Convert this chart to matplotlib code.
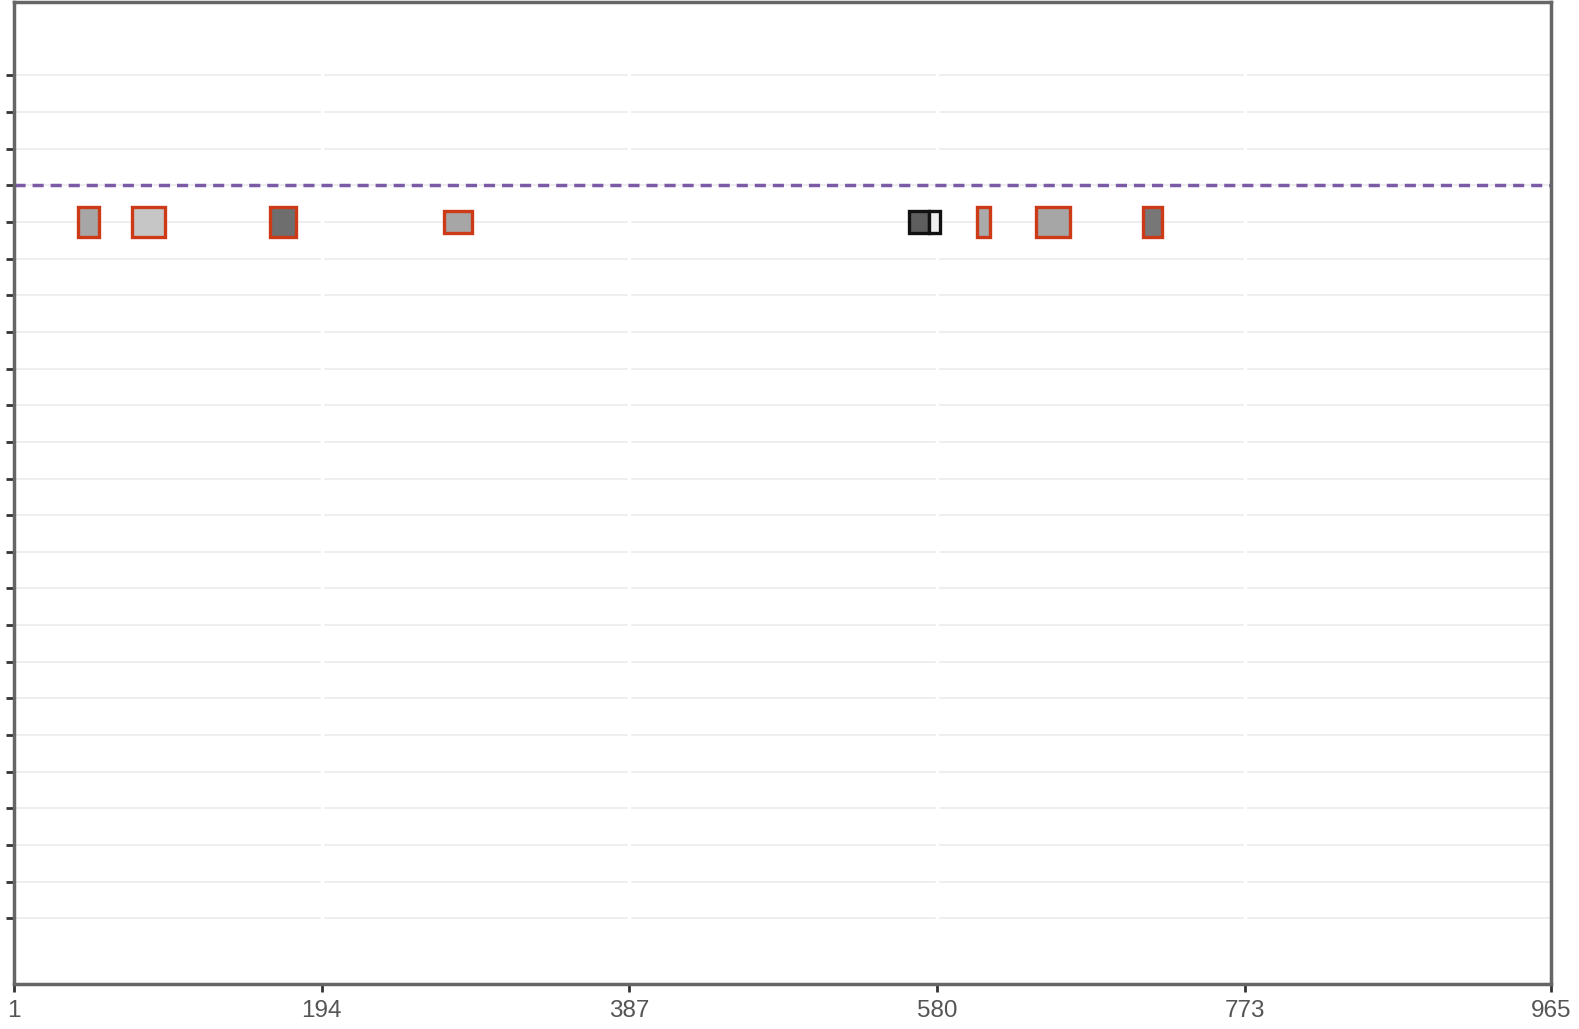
import matplotlib.pyplot as plt
from matplotlib.patches import Rectangle

# data: feature spans along the sequence (start, end), row, fill, edge, height
starts = [41.3, 75.1, 162.0, 271.0, 562.3, 575.1, 605.2, 642.1, 709.4]
ends = [54.3, 96.0, 178.1, 288.1, 575.1, 582.0, 613.1, 663.2, 721.1]
rows = [5, 5, 5, 5, 5, 5, 5, 5, 5]
fills = ['#a6a6a6', '#c6c6c6', '#6e6e6e', '#a6a6a6', '#5e5e5e', '#eeeeee', '#aaaaaa', '#a6a6a6', '#777777']
edges = ['#cc3a17', '#cc3a17', '#cc3a17', '#cc3a17', '#111111', '#111111', '#cc3a17', '#cc3a17', '#cc3a17']
heights = [0.8, 0.8, 0.8, 0.6, 0.6, 0.6, 0.8, 0.8, 0.8]

threshold = 4
xticks = [1, 194, 387, 580, 773, 965]
yrows = list(range(1, 25))

plt.rcParams['font.family'] = ['Liberation Sans', 'DejaVu Sans']

fig = plt.figure(figsize=(15.79, 10.29), dpi=100)
ax = fig.add_axes([0.0087, 0.0434, 0.9736, 0.9546])

for y in yrows:
    ax.axhline(y, color='#ebebeb', lw=1.2, zorder=0)
for x in xticks[1:-1]:
    ax.axvline(x, color='white', lw=2.5, zorder=1)

ax.axhline(threshold, color='#7b5aa6', lw=2.5, ls=(0, (3.2, 2.0)), zorder=2)

for s, e, r, f, ec, h in zip(starts, ends, rows, fills, edges, heights):
    ax.add_patch(Rectangle((s, r - h / 2), e - s, h, facecolor=f, edgecolor=ec,
                           lw=2.4, zorder=3))

ax.set_xlim(1, 965)
ax.set_ylim(25.8, -1)
ax.set_xticks(xticks)
ax.set_xticklabels([str(t) for t in xticks], fontsize=17.5, color='#555555')
ax.set_yticks(yrows)
ax.set_yticklabels([])
ax.tick_params(axis='both', direction='out', length=6, width=2, color='#333333', pad=5)

for sp in ax.spines.values():
    sp.set_color('#666666')
    sp.set_linewidth(2.5)

fig.savefig('out.png', dpi=100)
